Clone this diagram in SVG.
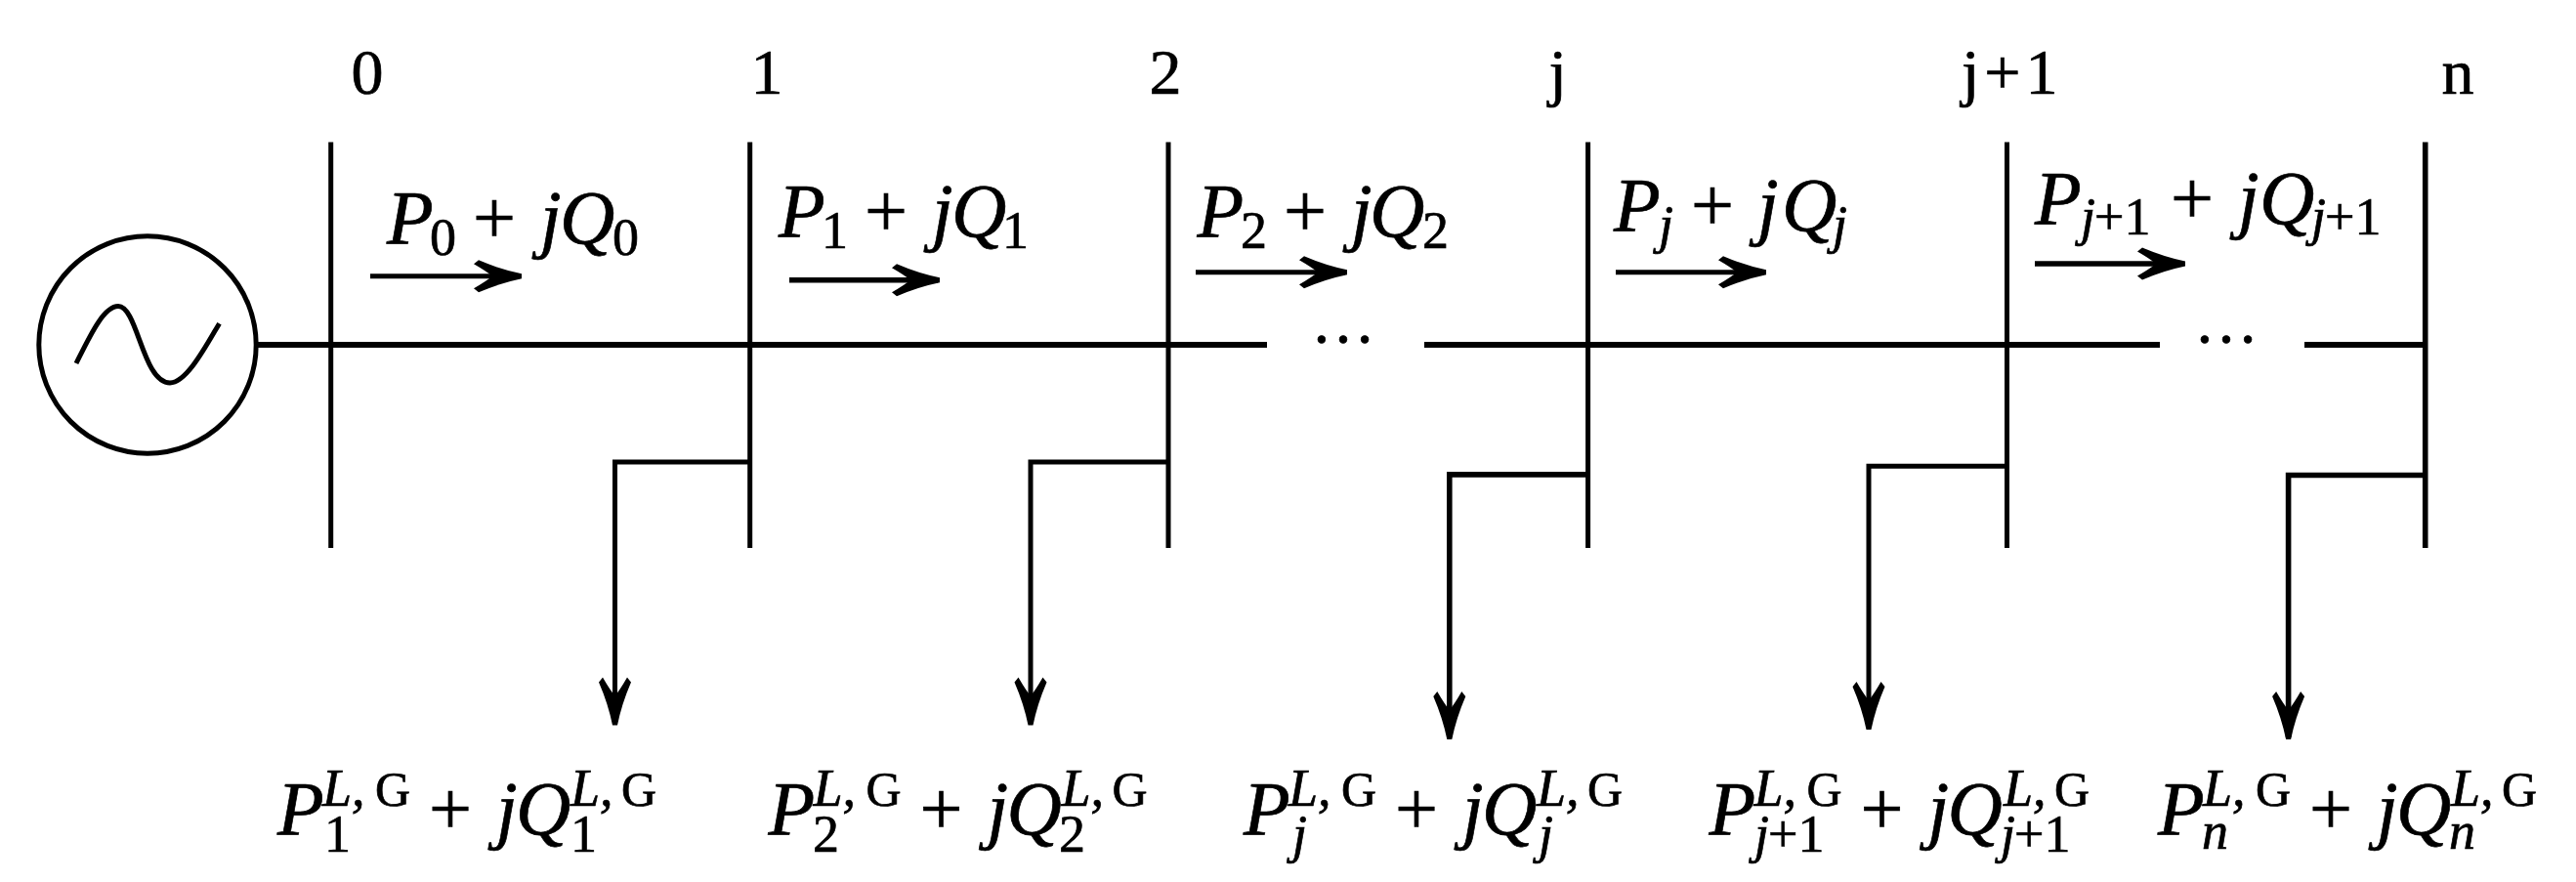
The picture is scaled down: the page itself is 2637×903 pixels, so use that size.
<svg xmlns="http://www.w3.org/2000/svg" width="2637" height="903" viewBox="0 0 2637 903">
<style>
text{font-family:"Liberation Serif","DejaVu Serif",serif;fill:#000;stroke:#000;stroke-width:.7}
.n{font-size:66px}
.m{font-size:78px}
.i{font-style:italic}
.s{font-size:54px}
.g{font-size:50px}
.e{font-size:66px}
.w{fill:none;stroke:#000;stroke-width:5}
.t{fill:none;stroke:#000;stroke-width:5.6}
.b{fill:none;stroke:#000;stroke-width:6}
</style>
<defs>
<marker id="head" markerUnits="userSpaceOnUse" markerWidth="60" markerHeight="44" refX="50" refY="22" orient="auto" overflow="visible">
<path d="M52,19.5Q30,15 8,5.5L3,9.5Q16,17 22,22Q16,27 3,34.5L8,38.5Q30,29 52,24.5Z" fill="#000"/>
</marker>
</defs>
<rect width="2637" height="903" fill="#fff"/>
<g id="connectors">
<path class="b" d="M264,353H1297M1458,353H2211M2359,353H2482"/>
<path class="w" d="M767.5,473.1H629.5V740.5" marker-end="url(#head)"/>
<path class="w" d="M1196,473.1H1055V740.5" marker-end="url(#head)"/>
<path class="t" d="M1625.6,485.9H1483.8V755" marker-end="url(#head)"/>
<path class="w" d="M2054.5,477.2H1913V745" marker-end="url(#head)"/>
<path class="t" d="M2482.7,486.5H2342.6V755" marker-end="url(#head)"/>
<path class="w" d="M379,282.8H532" marker-end="url(#head)"/>
<path class="t" d="M808,286.8H960" marker-end="url(#head)"/>
<path class="w" d="M1224,278.7H1377" marker-end="url(#head)"/>
<path class="w" d="M1654,278.7H1806" marker-end="url(#head)"/>
<path class="t" d="M2083,270H2235" marker-end="url(#head)"/>
</g>
<g id="generator">
<circle class="w" cx="151" cy="353" r="111.2"/>
<path class="w" d="M78,372C92,344 106,313.6 121,313.6C141,313.6 146,392 174,392C191,392 211,354 224.5,331.2"/>
</g>
<g id="bus-0"><path class="w" d="M338.7,145.4V561"/><text class="n" x="359.5" y="95.5">0</text></g>
<g id="bus-1"><path class="w" d="M767.7,145.4V561"/><text class="n" x="768.5" y="95.5">1</text></g>
<g id="bus-2"><path class="w" d="M1196,145.4V561"/><text class="n" x="1176.5" y="95.5">2</text></g>
<g id="bus-j"><path class="w" d="M1625.6,145.4V561"/><text class="n" x="1585.5" y="95.5">j</text></g>
<g id="bus-j1"><path class="w" d="M2054.5,145.4V561"/><text class="n" x="2008" y="95.5" letter-spacing="5">j+1</text></g>
<g id="bus-n"><path class="t" d="M2482.7,145.4V561"/><text class="n" x="2499.5" y="95.5">n</text></g>
<g id="ellipsis-1"><text class="e" x="1342" y="351">…</text></g>
<g id="ellipsis-2"><text class="e" x="2246" y="351">…</text></g>
<g id="flow-0"><text class="m"><tspan class="i" x="396" y="249.3">P</tspan><tspan class="s" x="440" y="261.4">0</tspan><tspan x="484" y="249.3">+</tspan><tspan class="i" x="553" y="249.3">j</tspan><tspan class="i" x="573" y="249.3">Q</tspan><tspan class="s" x="627" y="261.4">0</tspan></text></g>
<g id="flow-1"><text class="m"><tspan class="i" x="797" y="242.3">P</tspan><tspan class="s" x="841" y="254.3">1</tspan><tspan x="885" y="242.3">+</tspan><tspan class="i" x="954" y="242.3">j</tspan><tspan class="i" x="974" y="242.3">Q</tspan><tspan class="s" x="1026" y="254.3">1</tspan></text></g>
<g id="flow-2"><text class="m"><tspan class="i" x="1225.5" y="242.3">P</tspan><tspan class="s" x="1270" y="254.3">2</tspan><tspan x="1314" y="242.3">+</tspan><tspan class="i" x="1383" y="242.3">j</tspan><tspan class="i" x="1402" y="242.3">Q</tspan><tspan class="s" x="1456" y="254.3">2</tspan></text></g>
<g id="flow-j"><text class="m"><tspan class="i" x="1652" y="236.2">P</tspan><tspan class="s i" x="1698" y="248.3">j</tspan><tspan x="1731" y="236.2">+</tspan><tspan class="i" x="1799" y="236.2">j</tspan><tspan class="i" x="1824" y="236.2">Q</tspan><tspan class="s i" x="1876" y="248.3">j</tspan></text></g>
<g id="flow-j1"><text class="m"><tspan class="i" x="2083" y="229.2">P</tspan><tspan class="s i" x="2130" y="240.2">j</tspan><tspan class="s" x="2144" y="240.2">+1</tspan><tspan x="2222" y="229.2">+</tspan><tspan class="i" x="2291" y="229.2">j</tspan><tspan class="i" x="2313" y="229.2">Q</tspan><tspan class="s i" x="2366" y="240.2">j</tspan><tspan class="s" x="2380" y="240.2">+1</tspan></text></g>
<g id="load-1"><text class="m"><tspan class="i" x="284" y="854.4">P</tspan><tspan class="s i" x="330" y="825.3">L,</tspan><tspan class="g" x="384" y="825.3">G</tspan><tspan class="s" x="332" y="871.5">1</tspan><tspan x="439" y="854.4">+</tspan><tspan class="i" x="508" y="854.4">j</tspan><tspan class="i" x="528" y="854.4">Q</tspan><tspan class="s i" x="584" y="825.3">L,</tspan><tspan class="g" x="636" y="825.3">G</tspan><tspan class="s" x="584" y="871.5">1</tspan></text></g>
<g id="load-2"><text class="m"><tspan class="i" x="786.5" y="854.4">P</tspan><tspan class="s i" x="832.5" y="825.3">L,</tspan><tspan class="g" x="886.5" y="825.3">G</tspan><tspan class="s" x="832" y="871.5">2</tspan><tspan x="941.5" y="854.4">+</tspan><tspan class="i" x="1010.5" y="854.4">j</tspan><tspan class="i" x="1030.5" y="854.4">Q</tspan><tspan class="s i" x="1086.5" y="825.3">L,</tspan><tspan class="g" x="1138.5" y="825.3">G</tspan><tspan class="s" x="1084" y="871.5">2</tspan></text></g>
<g id="load-j"><text class="m"><tspan class="i" x="1273" y="854.4">P</tspan><tspan class="s i" x="1319" y="825.3">L,</tspan><tspan class="g" x="1373" y="825.3">G</tspan><tspan class="s i" x="1323" y="871.5">j</tspan><tspan x="1428" y="854.4">+</tspan><tspan class="i" x="1497" y="854.4">j</tspan><tspan class="i" x="1517" y="854.4">Q</tspan><tspan class="s i" x="1573" y="825.3">L,</tspan><tspan class="g" x="1625" y="825.3">G</tspan><tspan class="s i" x="1575" y="871.5">j</tspan></text></g>
<g id="load-j1"><text class="m"><tspan class="i" x="1749.5" y="854.4">P</tspan><tspan class="s i" x="1795.5" y="825.3">L,</tspan><tspan class="g" x="1849.5" y="825.3">G</tspan><tspan class="s i" x="1796" y="871.5">j</tspan><tspan class="s" x="1810" y="871.5">+1</tspan><tspan x="1904.5" y="854.4">+</tspan><tspan class="i" x="1973.5" y="854.4">j</tspan><tspan class="i" x="1993.5" y="854.4">Q</tspan><tspan class="s i" x="2051" y="825.3">L,</tspan><tspan class="g" x="2103" y="825.3">G</tspan><tspan class="s i" x="2048" y="871.5">j</tspan><tspan class="s" x="2062" y="871.5">+1</tspan></text></g>
<g id="load-n"><text class="m"><tspan class="i" x="2209" y="854.4">P</tspan><tspan class="s i" x="2255" y="825.3">L,</tspan><tspan class="g" x="2309" y="825.3">G</tspan><tspan class="s i" x="2254" y="868.5">n</tspan><tspan x="2364" y="854.4">+</tspan><tspan class="i" x="2433" y="854.4">j</tspan><tspan class="i" x="2453" y="854.4">Q</tspan><tspan class="s i" x="2509" y="825.3">L,</tspan><tspan class="g" x="2561" y="825.3">G</tspan><tspan class="s i" x="2507" y="868.5">n</tspan></text></g>
</svg>
